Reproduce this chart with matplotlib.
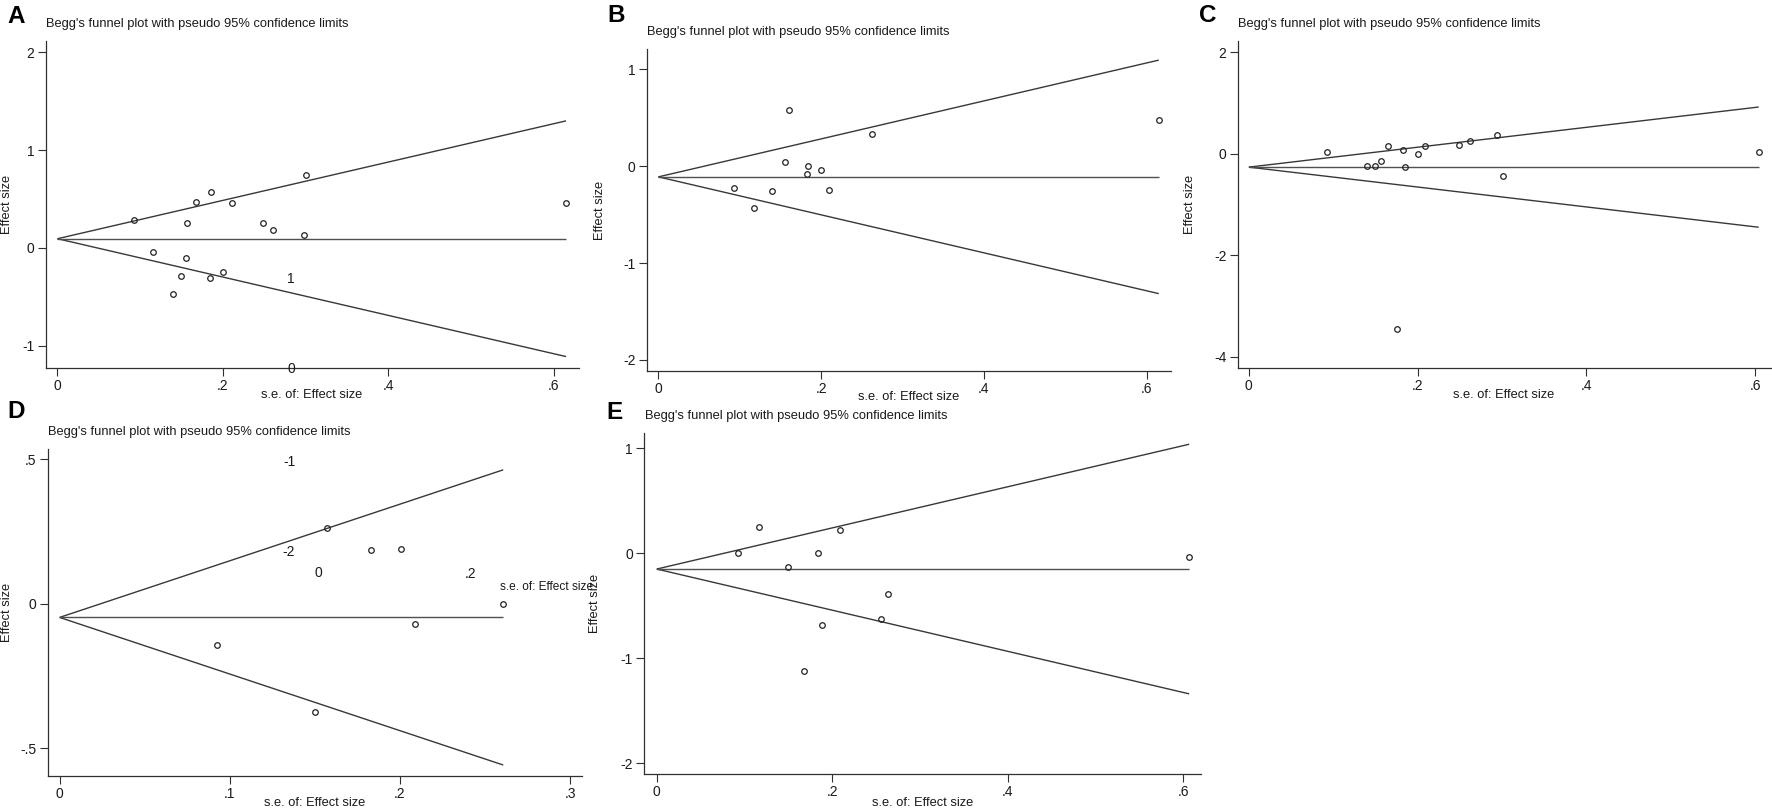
import matplotlib
matplotlib.use("Agg")
import matplotlib.pyplot as plt
import numpy as np

plt.rcParams['font.family'] = ['Liberation Sans', 'DejaVu Sans']

W, H = 1772, 809
DPI = 100

# ---------------- data ----------------
panel_letters = ['A', 'B', 'C', 'D', 'E']
title_text = "Begg's funnel plot with pseudo 95% confidence limits"
xlabel_text = "s.e. of: Effect size"
ylabel_text = "Effect size"

se_A = [0.093, 0.116, 0.140, 0.149, 0.155, 0.157, 0.167, 0.185, 0.186, 0.200, 0.211, 0.249, 0.260, 0.298, 0.300, 0.615]
es_A = [0.286, -0.044, -0.474, -0.290, -0.102, 0.256, 0.470, -0.303, 0.572, -0.245, 0.463, 0.259, 0.187, 0.129, 0.743, 0.460]
pooled_A = 0.094

se_B = [0.093, 0.118, 0.140, 0.155, 0.160, 0.183, 0.184, 0.200, 0.210, 0.263, 0.615]
es_B = [-0.221, -0.434, -0.252, 0.041, 0.583, -0.083, 0.003, -0.034, -0.248, 0.331, 0.476]
pooled_B = -0.110

se_C = [0.093, 0.140, 0.150, 0.156, 0.165, 0.175, 0.183, 0.185, 0.201, 0.209, 0.249, 0.262, 0.294, 0.301, 0.604]
es_C = [0.033, -0.236, -0.249, -0.151, 0.144, -3.456, 0.066, -0.269, 0.000, 0.144, 0.170, 0.249, 0.367, -0.439, 0.033]
pooled_C = -0.264

se_D = [0.0928, 0.150, 0.157, 0.183, 0.2006, 0.209, 0.2607]
es_D = [-0.141, -0.374, 0.264, 0.187, 0.190, -0.070, 0.000]
pooled_D = -0.047

se_E = [0.0923, 0.116, 0.149, 0.168, 0.184, 0.188, 0.209, 0.255, 0.263, 0.6065]
es_E = [0.000, 0.248, -0.130, -1.124, 0.000, -0.683, 0.222, -0.625, -0.390, -0.032]
pooled_E = -0.150

xticks_A = [0, 0.2, 0.4, 0.6]; xticklabels_A = ['0', '.2', '.4', '.6']
yticks_A = [-1, 0, 1, 2];      yticklabels_A = ['-1', '0', '1', '2']
xticks_B = [0, 0.2, 0.4, 0.6]; xticklabels_B = ['0', '.2', '.4', '.6']
yticks_B = [-2, -1, 0, 1];     yticklabels_B = ['-2', '-1', '0', '1']
xticks_C = [0, 0.2, 0.4, 0.6]; xticklabels_C = ['0', '.2', '.4', '.6']
yticks_C = [-4, -2, 0, 2];     yticklabels_C = ['-4', '-2', '0', '2']
xticks_D = [0, 0.1, 0.2, 0.3]; xticklabels_D = ['0', '.1', '.2', '.3']
yticks_D = [-0.5, 0, 0.5];     yticklabels_D = ['-.5', '0', '.5']
xticks_E = [0, 0.2, 0.4, 0.6]; xticklabels_E = ['0', '.2', '.4', '.6']
yticks_E = [-2, -1, 0, 1];     yticklabels_E = ['-2', '-1', '0', '1']

# ---------------- layout (pixels) ----------------
fig = plt.figure(figsize=(W / DPI, H / DPI), dpi=DPI)
fig.patch.set_facecolor('white')

LINE = '#383838'
TXT = '#1a1a1a'

def px_axes(l, t, r, b):
    return fig.add_axes([l / W, 1 - b / H, (r - l) / W, (b - t) / H])

def ftext(x, y, s, **kw):
    fig.text(x / W, 1 - y / H, s, **kw)

panels = [
    dict(se=se_A, es=es_A, pooled=pooled_A, box=(45.5, 41, 578.5, 367.7), xlim=(-0.0145, 0.63), ylim=(-1.225, 2.116),
         xt=xticks_A, xtl=xticklabels_A, yt=yticks_A, ytl=yticklabels_A,
         letter=(7, 16.5), title=(46, 24), xlab_y=395, ylab_x=7),
    dict(se=se_B, es=es_B, pooled=pooled_B, box=(646.7, 49.3, 1171, 370.6), xlim=(-0.0144, 0.63), ylim=(-2.11, 1.207),
         xt=xticks_B, xtl=xticklabels_B, yt=yticks_B, ytl=yticklabels_B,
         letter=(607, 16), title=(647, 32), xlab_y=397, ylab_x=600),
    dict(se=se_C, es=es_C, pooled=pooled_C, box=(1237.6, 41, 1770.5, 368), xlim=(-0.0133, 0.618), ylim=(-4.22, 2.22),
         xt=xticks_C, xtl=xticklabels_C, yt=yticks_C, ytl=yticklabels_C,
         letter=(1199, 15.5), title=(1238, 24), xlab_y=395, ylab_x=1190),
    dict(se=se_D, es=es_D, pooled=pooled_D, box=(47.5, 449.3, 582, 776), xlim=(-0.0071, 0.307), ylim=(-0.596, 0.535),
         xt=xticks_D, xtl=xticklabels_D, yt=yticks_D, ytl=yticklabels_D,
         letter=(7, 411), title=(47.5, 431.7), xlab_y=803, ylab_x=7),
    dict(se=se_E, es=es_E, pooled=pooled_E, box=(644, 433.3, 1201, 774.3), xlim=(-0.0145, 0.62), ylim=(-2.105, 1.143),
         xt=xticks_E, xtl=xticklabels_E, yt=yticks_E, ytl=yticklabels_E,
         letter=(606, 412.5), title=(644.7, 415.7), xlab_y=803, ylab_x=595),
]

for letter, p in zip(panel_letters, panels):
    l, t, r, b = p['box']
    ax = px_axes(l, t, r, b)
    ax.set_facecolor('none')
    se = np.array(p['se']); es = np.array(p['es'])
    semax = se.max()
    sx = np.array([0.0, semax])
    th = p['pooled']
    ax.plot(sx, th + 1.96 * sx, color=LINE, lw=1.0, solid_capstyle='butt')
    ax.plot(sx, th - 1.96 * sx, color=LINE, lw=1.0, solid_capstyle='butt')
    ax.plot(sx, [th, th], color='#505050', lw=1.0, solid_capstyle='butt')
    ax.plot(se, es, linestyle='none', marker='o', markersize=4.0, markerfacecolor='none',
            markeredgecolor='#222222', markeredgewidth=0.9)
    ax.set_xlim(*p['xlim']); ax.set_ylim(*p['ylim'])
    for s in ['top', 'right']:
        ax.spines[s].set_visible(False)
    for s in ['left', 'bottom']:
        ax.spines[s].set_color('#303030'); ax.spines[s].set_linewidth(0.9)
    ax.set_xticks(p['xt']); ax.set_xticklabels(p['xtl'])
    ax.set_yticks(p['yt']); ax.set_yticklabels(p['ytl'])
    ax.tick_params(direction='out', length=5.5, width=0.8, color='#303030', labelsize=10,
                   labelcolor=TXT, pad=2.5)
    # panel letter, title, axis labels
    ftext(p['letter'][0], p['letter'][1], letter, fontsize=17.5, fontweight='bold',
          ha='left', va='center', color='black')
    ftext(p['title'][0], p['title'][1], title_text, fontsize=9.3, ha='left', va='center', color=TXT)
    ftext((l + r) / 2, p['xlab_y'], xlabel_text, fontsize=9.3, ha='center', va='center', color=TXT)
    ftext(p['ylab_x'], (t + b) / 2, ylabel_text, fontsize=9.3, ha='center', va='center',
          rotation=90, color=TXT)

# stray text remnants visible in the reference image
ftext(291, 279.3, '1', fontsize=10, ha='center', va='center', color=TXT)
ftext(291, 369.3, '0', fontsize=10, ha='center', va='center', color=TXT)
ftext(289, 461.7, '-1', fontsize=10, ha='center', va='center', color=TXT)
ftext(289, 552.3, '-2', fontsize=10, ha='center', va='center', color=TXT)
ftext(318.6, 573.3, '0', fontsize=10, ha='center', va='center', color=TXT)
ftext(470.8, 574, '.2', fontsize=10, ha='center', va='center', color=TXT)
ftext(500, 586.7, 's.e. of: Effect size', fontsize=8.6, ha='left', va='center', color=TXT)

fig.savefig('out.png', dpi=DPI, facecolor='white')
